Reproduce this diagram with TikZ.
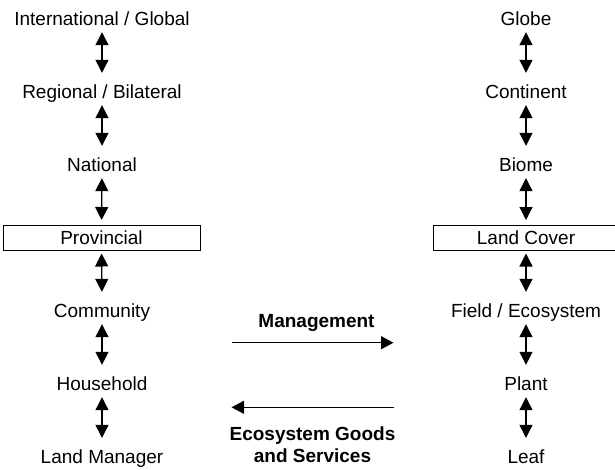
\documentclass[tikz,border=0pt]{standalone}
\usepackage{fontspec}
\setmainfont{Liberation Sans}
\usetikzlibrary{positioning,arrows.meta}
\tikzset{
		tier/.style={font=\fontsize{19}{22}\selectfont, inner sep=0pt, text height=13.5pt, text depth=0pt},
		tierbox/.style={tier, draw, line width=1pt, inner ysep=5.5pt, minimum width=#1},
		tierbox/.default=190pt,
		updown/.style={{Triangle[width=13pt,length=13pt]}-{Triangle[width=13pt,length=13pt]},
			line width=1.2pt, shorten <=6.5pt, shorten >=12pt},
		flow/.style={-{Triangle[width=13pt,length=12.5pt]}, line width=1.2pt},
		flowlabel/.style={font=\fontsize{19}{21.7}\selectfont\bfseries, inner sep=0pt, align=center},
		}

\begin{document}
\begin{tikzpicture}[node distance=73pt, on grid]
					\useasboundingbox (0,0) rectangle (615pt,-469pt);
					%NODES for management scales
					\node[tier](intl) at (102pt,-18.75pt){International / Global};
					\node[tier](regi)[below=of intl]{Regional / Bilateral};
					\node[tier](natl)[below=of regi]{National};
					\node[tierbox=197pt](prov)[below=of natl, xshift=-0.5pt]{Provincial};
					\node[tier](comm)[below=of prov, xshift=0.5pt]{Community};
					\node[tier](hhld)[below=of comm]{Household};
					\node[tier](lman)[below=of hhld]{Land Manager};
					%NODES for ecological scales
					\node[tier](glob) at (526pt,-18.75pt){Globe};
					\node[tier](cont)[below=of glob]{Continent};
					\node[tier](biom)[below=of cont]{Biome};
					\node[tierbox=186pt](lcov)[below=of biom]{Land Cover};
					\node[tier](fld)[below=of lcov]{Field / Ecosystem};
					\node[tier](plnt)[below=of fld]{Plant};
					\node[tier](leaf)[below=of plnt]{Leaf};
					%VERTICAL ARROWS
					\foreach \a/\b in {intl/regi, regi/natl, comm/hhld, hhld/lman,
						glob/cont, cont/biom, fld/plnt, plnt/leaf}
						\draw[updown] (\a) -- (\b);
					\draw[updown, shorten >=5pt] (natl) -- (prov);
					\draw[updown, shorten >=5pt] (biom) -- (lcov);
					\draw[updown, shorten <=3pt] (prov) -- (comm);
					\draw[updown, shorten <=3pt] (lcov) -- (fld);
					%HORIZONTAL ARROWS
					\coordinate (mgtl) at (231.5pt,-342.7pt);
					\coordinate (mgtr) at (393.5pt,-342.7pt);
					\coordinate (egsl) at (231.5pt,-407.3pt);
					\coordinate (egsr) at (393.5pt,-407.3pt);
					\draw[flow] (mgtl) -- node[flowlabel, above=11pt, xshift=4pt]{Management} (mgtr);
					\draw[flow] (egsr) -- node[flowlabel, below=18.8pt]{Ecosystem Goods\\and Services} (egsl);
				\end{tikzpicture}
\end{document}
